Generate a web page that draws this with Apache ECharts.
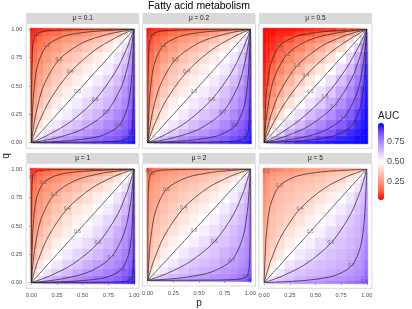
<!DOCTYPE html>
<html><head><meta charset="utf-8">
<script src="https://cdn.jsdelivr.net/npm/echarts@6/dist/echarts.min.js"></script>
<style>html,body{margin:0;padding:0;background:#fff}#c{width:412px;height:309px}</style>
</head><body><div id="c"></div>
<script>
// ---------- data ----------
const chartTitle = 'Fatty acid metabolism';
const panelTitles = ['μ = 0.1','μ = 0.2','μ = 0.5','μ = 1','μ = 2','μ = 5'];
const axisTicks = [0, 0.25, 0.5, 0.75, 1];
const axisTickLabels = ['0.00','0.25','0.50','0.75','1.00'];
const legendTicks = [0.25, 0.5, 0.75];
const legendTickLabels = ['0.25','0.50','0.75'];
// heatmap cell edges (p and q)
const pEdges = [-0.01,0.02,0.06,0.12,0.2,0.3,0.4,0.5,0.6,0.7,0.8,0.88,0.94,0.98,1.01];
const qEdges = [-0.01,0.02,0.06,0.12,0.2,0.3,0.4,0.5,0.6,0.7,0.8,0.88,0.94,0.98,1.01];
// AUC rows: row j = q cell j (bottom -> top), entries = p cells (left -> right)
const aucMu01 = [
[.50,.63,.70,.75,.79,.81,.83,.85,.87,.89,.91,.92,.93,.95],
[.37,.50,.58,.64,.69,.72,.75,.78,.80,.83,.85,.88,.91,.93],
[.30,.42,.50,.56,.61,.65,.69,.72,.75,.78,.81,.84,.88,.92],
[.25,.36,.44,.50,.55,.60,.63,.67,.70,.74,.77,.81,.85,.91],
[.21,.31,.39,.45,.50,.54,.58,.62,.65,.70,.74,.78,.83,.89],
[.19,.28,.35,.40,.46,.50,.54,.58,.61,.65,.70,.75,.80,.87],
[.17,.25,.31,.37,.42,.46,.50,.54,.58,.62,.67,.72,.78,.85],
[.15,.22,.28,.33,.38,.42,.46,.50,.54,.58,.63,.69,.75,.83],
[.13,.20,.25,.30,.35,.39,.42,.46,.50,.54,.60,.65,.72,.81],
[.11,.17,.22,.26,.30,.35,.38,.42,.46,.50,.55,.61,.69,.79],
[.09,.15,.19,.23,.26,.30,.33,.37,.40,.45,.50,.56,.64,.75],
[.08,.12,.16,.19,.22,.25,.28,.31,.35,.39,.44,.50,.58,.70],
[.07,.09,.12,.15,.17,.20,.22,.25,.28,.31,.36,.42,.50,.63],
[.05,.07,.08,.09,.11,.13,.15,.17,.19,.21,.25,.30,.37,.50]];
const aucMu02 = [
[.50,.63,.70,.76,.80,.82,.84,.85,.87,.89,.91,.92,.93,.95],
[.37,.50,.58,.64,.69,.73,.76,.79,.81,.83,.86,.88,.91,.93],
[.30,.42,.50,.56,.61,.65,.69,.72,.75,.79,.82,.85,.88,.92],
[.24,.36,.44,.50,.55,.59,.63,.67,.70,.74,.79,.82,.86,.91],
[.20,.31,.39,.45,.50,.54,.58,.62,.65,.70,.74,.79,.83,.89],
[.18,.27,.35,.41,.46,.50,.54,.57,.61,.65,.70,.75,.81,.87],
[.16,.24,.31,.37,.42,.46,.50,.54,.57,.62,.67,.72,.79,.85],
[.15,.21,.28,.33,.38,.43,.46,.50,.54,.58,.63,.69,.76,.84],
[.13,.19,.25,.30,.35,.39,.43,.46,.50,.54,.59,.65,.73,.82],
[.11,.17,.21,.26,.30,.35,.38,.42,.46,.50,.55,.61,.69,.80],
[.09,.14,.18,.21,.26,.30,.33,.37,.41,.45,.50,.56,.64,.76],
[.08,.12,.15,.18,.21,.25,.28,.31,.35,.39,.44,.50,.58,.70],
[.07,.09,.12,.14,.17,.19,.21,.24,.27,.31,.36,.42,.50,.63],
[.05,.07,.08,.09,.11,.13,.15,.16,.18,.20,.24,.30,.37,.50]];
const aucMu05 = [
[.50,.70,.79,.84,.88,.91,.92,.93,.94,.95,.95,.96,.96,.97],
[.30,.50,.62,.71,.77,.81,.84,.88,.90,.92,.93,.95,.95,.96],
[.21,.38,.50,.59,.67,.73,.77,.81,.84,.88,.91,.93,.95,.96],
[.16,.29,.41,.50,.58,.64,.70,.74,.79,.83,.87,.91,.93,.95],
[.12,.23,.33,.42,.50,.57,.63,.68,.73,.78,.83,.88,.92,.95],
[.09,.19,.27,.36,.43,.50,.56,.61,.67,.73,.79,.84,.90,.94],
[.08,.16,.23,.30,.37,.44,.50,.56,.61,.68,.74,.81,.88,.93],
[.07,.12,.19,.26,.32,.39,.44,.50,.56,.63,.70,.77,.84,.92],
[.06,.10,.16,.21,.27,.33,.39,.44,.50,.57,.64,.73,.81,.91],
[.05,.08,.12,.17,.22,.27,.32,.37,.43,.50,.58,.67,.77,.88],
[.05,.07,.09,.13,.17,.21,.26,.30,.36,.42,.50,.59,.71,.84],
[.04,.05,.07,.09,.12,.16,.19,.23,.27,.33,.41,.50,.62,.79],
[.04,.05,.05,.07,.08,.10,.12,.16,.19,.23,.29,.38,.50,.70],
[.03,.04,.04,.05,.05,.06,.07,.08,.09,.12,.16,.21,.30,.50]];
const aucMu1 = [
[.50,.62,.69,.73,.76,.79,.81,.82,.84,.85,.87,.90,.91,.93],
[.38,.50,.57,.63,.67,.71,.73,.75,.78,.80,.82,.85,.88,.91],
[.31,.43,.50,.56,.60,.64,.68,.71,.73,.76,.79,.82,.85,.90],
[.27,.37,.44,.50,.55,.59,.62,.66,.69,.72,.75,.79,.82,.87],
[.24,.33,.40,.45,.50,.54,.58,.61,.64,.68,.72,.76,.80,.85],
[.21,.29,.36,.41,.46,.50,.54,.57,.61,.64,.69,.73,.78,.84],
[.19,.27,.32,.38,.42,.46,.50,.53,.57,.61,.66,.71,.75,.82],
[.18,.25,.29,.34,.39,.43,.47,.50,.54,.58,.62,.68,.73,.81],
[.16,.22,.27,.31,.36,.39,.43,.46,.50,.54,.59,.64,.71,.79],
[.15,.20,.24,.28,.32,.36,.39,.42,.46,.50,.55,.60,.67,.76],
[.13,.18,.21,.25,.28,.31,.34,.38,.41,.45,.50,.56,.63,.73],
[.10,.15,.18,.21,.24,.27,.29,.32,.36,.40,.44,.50,.57,.69],
[.09,.12,.15,.18,.20,.22,.25,.27,.29,.33,.37,.43,.50,.62],
[.07,.09,.10,.13,.15,.16,.18,.19,.21,.24,.27,.31,.38,.50]];
const aucMu2 = [
[.50,.61,.65,.68,.71,.72,.74,.75,.76,.78,.80,.82,.85,.90],
[.39,.50,.57,.61,.64,.66,.69,.70,.72,.73,.75,.77,.80,.85],
[.35,.43,.50,.55,.59,.62,.64,.66,.68,.71,.72,.75,.77,.82],
[.32,.39,.45,.50,.54,.58,.61,.63,.65,.68,.70,.72,.75,.80],
[.29,.36,.41,.46,.50,.54,.57,.60,.62,.65,.68,.71,.73,.78],
[.28,.34,.38,.42,.46,.50,.53,.56,.60,.62,.65,.68,.72,.76],
[.26,.31,.36,.39,.43,.47,.50,.53,.56,.60,.63,.66,.70,.75],
[.25,.30,.34,.37,.40,.44,.47,.50,.53,.57,.61,.64,.69,.74],
[.24,.28,.32,.35,.38,.40,.44,.47,.50,.54,.58,.62,.66,.72],
[.22,.27,.29,.32,.35,.38,.40,.43,.46,.50,.54,.59,.64,.71],
[.20,.25,.28,.30,.32,.35,.37,.39,.42,.46,.50,.55,.61,.68],
[.18,.23,.25,.28,.29,.32,.34,.36,.38,.41,.45,.50,.57,.65],
[.15,.20,.23,.25,.27,.28,.30,.31,.34,.36,.39,.43,.50,.61],
[.10,.15,.18,.20,.22,.24,.25,.26,.28,.29,.32,.35,.39,.50]];
const aucMu5 = [
[.50,.61,.64,.67,.69,.71,.72,.73,.75,.76,.78,.80,.81,.83],
[.39,.50,.57,.61,.63,.65,.67,.69,.70,.72,.73,.75,.78,.81],
[.36,.43,.50,.55,.60,.62,.64,.65,.67,.69,.71,.73,.75,.80],
[.33,.39,.45,.50,.55,.58,.61,.63,.64,.66,.68,.71,.73,.78],
[.31,.37,.40,.45,.50,.54,.57,.60,.62,.64,.66,.69,.72,.76],
[.29,.35,.38,.42,.46,.50,.53,.57,.60,.62,.64,.67,.70,.75],
[.28,.33,.36,.39,.43,.47,.50,.53,.57,.60,.63,.65,.69,.73],
[.27,.31,.35,.37,.40,.43,.47,.50,.53,.57,.61,.64,.67,.72],
[.25,.30,.33,.36,.38,.40,.43,.47,.50,.54,.58,.62,.65,.71],
[.24,.28,.31,.34,.36,.38,.40,.43,.46,.50,.55,.60,.63,.69],
[.22,.27,.29,.32,.34,.36,.37,.39,.42,.45,.50,.55,.61,.67],
[.20,.25,.27,.29,.31,.33,.35,.36,.38,.40,.45,.50,.57,.64],
[.19,.22,.25,.27,.28,.30,.31,.33,.35,.37,.39,.43,.50,.61],
[.17,.19,.20,.22,.24,.25,.27,.28,.29,.31,.33,.36,.39,.50]];

// contour lines [p, q]
const cDiag = [[0,0],[.45,.45],[1,1]];
const cD075 = [[0,0],[.012,.026],[.033,.068],[.085,.165],[.202,.349],[.407,.593],[.651,.798],[.836,.915],[.932,.967],[.974,.988],[1,1]];
const cD075s = [[0,0],[.026,.012],[.068,.033],[.165,.085],[.349,.202],[.593,.407],[.798,.651],[.915,.836],[.967,.932],[.988,.974],[1,1]];
const cD1 = [[0,0],[.011,.029],[.029,.076],[.076,.182],[.182,.378],[.378,.622],[.622,.818],[.818,.924],[.924,.971],[.971,.989],[1,1]];
const cD1s = [[0,0],[.029,.011],[.076,.029],[.182,.076],[.378,.182],[.622,.378],[.818,.622],[.924,.818],[.971,.924],[.989,.971],[1,1]];
const cD125 = [[0,0],[.010,.033],[.026,.085],[.068,.202],[.165,.407],[.349,.651],[.593,.836],[.798,.933],[.915,.974],[.967,.990],[1,1]];
const cD125s = [[0,0],[.033,.010],[.085,.026],[.202,.068],[.407,.165],[.651,.349],[.836,.593],[.933,.798],[.974,.915],[.990,.967],[1,1]];
const cD15 = [[0,0],[.009,.037],[.023,.095],[.060,.223],[.148,.438],[.321,.679],[.562,.852],[.777,.940],[.905,.977],[.963,.991],[1,1]];
const cD15s = [[0,0],[.037,.009],[.095,.023],[.223,.060],[.438,.148],[.679,.321],[.852,.562],[.940,.777],[.977,.905],[.991,.963],[1,1]];
const cD2 = [[0,0],[.007,.047],[.018,.119],[.047,.269],[.119,.5],[.269,.731],[.5,.881],[.731,.953],[.881,.982],[.953,.993],[1,1]];
const cD2s = [[0,0],[.047,.007],[.119,.018],[.269,.047],[.5,.119],[.731,.269],[.881,.5],[.953,.731],[.982,.881],[.993,.953],[1,1]];
const cD25 = [[0,0],[.005,.060],[.014,.148],[.037,.321],[.095,.562],[.223,.777],[.438,.905],[.679,.963],[.852,.986],[.940,.995],[1,1]];
const cD25s = [[0,0],[.060,.005],[.148,.014],[.321,.037],[.562,.095],[.777,.223],[.905,.438],[.963,.679],[.986,.852],[.995,.940],[1,1]];
const cD3 = [[0,0],[.004,.076],[.011,.182],[.029,.378],[.076,.622],[.182,.818],[.378,.924],[.622,.971],[.818,.989],[.924,.996],[1,1]];
const cD3s = [[0,0],[.076,.004],[.182,.011],[.378,.029],[.622,.076],[.818,.182],[.924,.378],[.971,.622],[.989,.818],[.996,.924],[1,1]];
const cD35 = [[0,0],[0,.014],[.003,.095],[.009,.223],[.023,.438],[.060,.679],[.148,.852],[.321,.940],[.562,.977],[.777,.991],[.905,.997],[.986,1],[1,1]];
const cD35s = [[0,0],[.014,0],[.095,.003],[.223,.009],[.438,.023],[.679,.060],[.852,.148],[.940,.321],[.977,.562],[.991,.777],[.997,.905],[1,.986],[1,1]];
const cD4 = [[0,0],[0,.018],[.002,.119],[.007,.269],[.018,.5],[.047,.731],[.119,.881],[.269,.953],[.5,.982],[.731,.993],[.881,.998],[.982,1],[1,1]];
const cD4s = [[0,0],[.018,0],[.119,.002],[.269,.007],[.5,.018],[.731,.047],[.881,.119],[.953,.269],[.982,.5],[.993,.731],[.998,.881],[1,.982],[1,1]];
const cD6 = [[0,0],[0,.047],[.001,.269],[.002,.5],[.007,.731],[.018,.881],[.047,.953],[.119,.982],[.269,.993],[.5,.998],[.731,.999],[.953,1],[1,1]];
const cD6s = [[0,0],[.047,0],[.269,.001],[.5,.002],[.731,.007],[.881,.018],[.953,.047],[.982,.119],[.993,.269],[.998,.5],[.999,.731],[1,.953],[1,1]];
const cD65 = [[0,0],[0,.060],[.001,.321],[.002,.562],[.005,.777],[.014,.905],[.037,.963],[.095,.986],[.223,.995],[.438,.998],[.679,.999],[.940,1],[1,1]];
const cD65s = [[0,0],[.060,0],[.321,.001],[.562,.002],[.777,.005],[.905,.014],[.963,.037],[.986,.095],[.995,.223],[.998,.438],[.999,.679],[1,.940],[1,1]];
const cD7 = [[0,0],[0,.076],[.001,.378],[.002,.622],[.004,.818],[.011,.924],[.029,.971],[.076,.989],[.182,.996],[.378,.998],[.622,.999],[.924,1],[1,1]];
const cD7s = [[0,0],[.076,0],[.378,.001],[.622,.002],[.818,.004],[.924,.011],[.971,.029],[.989,.076],[.996,.182],[.998,.378],[.999,.622],[1,.924],[1,1]];

// [level label, contour line, index of the point carrying the label]
const contoursMu01 = [['0.1',cD6,6],['0.2',cD35,6],['0.3',cD2,5],['0.4',cD1,5],['0.5',cDiag,1],['0.6',cD1s,5],['0.7',cD2s,5],['0.8',cD35s,6],['0.9',cD6s,6]];
const contoursMu02 = [['0.1',cD6,6],['0.2',cD35,6],['0.3',cD2,5],['0.4',cD1,5],['0.5',cDiag,1],['0.6',cD1s,5],['0.7',cD2s,5],['0.8',cD35s,6],['0.9',cD6s,6]];
const contoursMu05 = [['0.1',cD35,6],['0.2',cD25,5],['0.3',cD15,5],['0.4',cD075,5],['0.5',cDiag,1],['0.6',cD075s,5],['0.7',cD15s,5],['0.8',cD25s,5],['0.9',cD35s,6]];
const contoursMu1 = [['0.1',cD7,5],['0.2',cD4,6],['0.3',cD25,5],['0.4',cD125,5],['0.5',cDiag,1],['0.6',cD125s,5],['0.7',cD25s,5],['0.8',cD4s,6],['0.9',cD7s,6]];
const contoursMu2 = [['0.2',cD65,6],['0.3',cD3,5],['0.4',cD125,5],['0.5',cDiag,1],['0.6',cD125s,5],['0.7',cD3s,5],['0.8',cD65s,6]];
const contoursMu5 = [['0.3',cD35,6],['0.4',cD125,5],['0.5',cDiag,1],['0.6',cD125s,5],['0.7',cD35s,6]];
// corner labels of tiny contours: [panel, p, q, text]
const extraLabels = [[4,0.012,0.975,'0.1'],[5,0.02,0.975,'0.2'],[5,0.975,0.012,'0.8']];

// ---------- build ----------
const FONT = 'Liberation Sans, Arial, sans-serif';
const aucByPanel = [aucMu01, aucMu02, aucMu05, aucMu1, aucMu2, aucMu5];
const contoursByPanel = [contoursMu01, contoursMu02, contoursMu05, contoursMu1, contoursMu2, contoursMu5];
const colLeft = [26.2, 142.6, 259.0], rowTop = [23.6, 163.6];
const panelW = 112.9, panelH = 124.7, stripH = 10.6;

const grids = [], xAxes = [], yAxes = [], series = [], graphics = [], heatIdx = [];
for (let k = 0; k < 6; k++) {
  const col = k % 3, row = Math.floor(k / 3);
  grids.push({left: colLeft[col], top: rowTop[row], width: panelW, height: panelH,
    show: true, backgroundColor: '#fff', borderColor: '#bdbdbd', borderWidth: 0.6});
  xAxes.push({gridIndex: k, type: 'value', min: -0.05, max: 1.05,
    name: k === 4 ? 'p' : '', nameLocation: 'middle', nameGap: 12,
    nameTextStyle: {fontSize: 10, color: '#1a1a1a', fontFamily: FONT},
    axisLine: {show: false},
    axisTick: {show: row === 1, customValues: axisTicks, length: 2.5, lineStyle: {color: '#333', width: 0.5}},
    axisLabel: {show: row === 1, customValues: axisTicks, margin: 4, fontSize: 5.7, color: '#4d4d4d', fontFamily: FONT,
      formatter: v => axisTickLabels[axisTicks.indexOf(v)]},
    splitLine: {show: false}});
  yAxes.push({gridIndex: k, type: 'value', min: -0.05, max: 1.05,
    axisLine: {show: false},
    axisTick: {show: col === 0, customValues: axisTicks, length: 2.5, lineStyle: {color: '#333', width: 0.5}},
    axisLabel: {show: col === 0, customValues: axisTicks, margin: 4, fontSize: 5.7, color: '#4d4d4d', fontFamily: FONT,
      formatter: v => axisTickLabels[axisTicks.indexOf(v)]},
    splitLine: {show: false}});
  const cells = [];
  aucByPanel[k].forEach((rowVals, j) => rowVals.forEach((v, i) =>
    cells.push([(pEdges[i] + pEdges[i + 1]) / 2, (qEdges[j] + qEdges[j + 1]) / 2, v, i, j])));
  heatIdx.push(series.length);
  series.push({type: 'custom', xAxisIndex: k, yAxisIndex: k, data: cells, silent: true, z: 1,
    encode: {x: 0, y: 1},
    renderItem: (params, api) => {
      const i = api.value(3), j = api.value(4);
      const a = api.coord([pEdges[i], qEdges[j + 1]]);
      const b = api.coord([pEdges[i + 1], qEdges[j]]);
      const c = api.visual('color');
      return {type: 'rect', shape: {x: a[0], y: a[1], width: b[0] - a[0], height: b[1] - a[1]},
        style: {fill: c, stroke: c, lineWidth: 0.5}};
    }});
  const labs = [];
  contoursByPanel[k].forEach(([lv, curve, li]) => {
    series.push({type: 'line', xAxisIndex: k, yAxisIndex: k, data: curve, showSymbol: false,
      smooth: 0.3, silent: true, z: 3, lineStyle: {color: '#222', width: 0.7}});
    labs.push({name: lv, value: curve[li]});
  });
  extraLabels.filter(e => e[0] === k).forEach(e => labs.push({name: e[3], value: [e[1], e[2]]}));
  series.push({type: 'scatter', xAxisIndex: k, yAxisIndex: k, data: labs, symbolSize: 1, silent: true, z: 4,
    itemStyle: {color: 'rgba(0,0,0,0)'},
    label: {show: true, position: 'inside', formatter: p => p.name, fontSize: 5, color: '#555', fontFamily: FONT}});
  // strip
  graphics.push({type: 'rect', shape: {x: colLeft[col], y: rowTop[row] - stripH, width: panelW, height: stripH},
    style: {fill: '#d9d9d9'}, z: 5});
  graphics.push({type: 'text', x: colLeft[col] + panelW / 2, y: rowTop[row] - stripH / 2 + 0.3, z: 6,
    style: {text: panelTitles[k], align: 'center', verticalAlign: 'middle', fontSize: 6.5, fill: '#1a1a1a', fontFamily: FONT}});
}
// legend axis
grids.push({left: 378, top: 123, width: 6, height: 77, show: false});
xAxes.push({gridIndex: 6, type: 'value', show: false, min: 0, max: 1});
yAxes.push({gridIndex: 6, type: 'value', min: 0.03, max: 0.97, position: 'right', z: 10,
  axisLine: {show: false},
  axisTick: {show: true, inside: true, customValues: legendTicks, length: 1.5, lineStyle: {color: '#fff', width: 0.8}},
  axisLabel: {customValues: legendTicks, margin: 3, fontSize: 9, color: '#4d4d4d', fontFamily: FONT,
    formatter: v => legendTickLabels[legendTicks.indexOf(v)]},
  splitLine: {show: false}});

graphics.push({type: 'text', x: 199, y: 6.5, style: {text: chartTitle, align: 'center', verticalAlign: 'middle', fontSize: 10.5, fill: '#000', fontFamily: FONT}});
graphics.push({type: 'text', x: 6, y: 156, rotation: Math.PI / 2, style: {text: 'q', align: 'center', verticalAlign: 'middle', fontSize: 10, fill: '#1a1a1a', fontFamily: FONT}});
graphics.push({type: 'text', x: 378, y: 116.5, style: {text: 'AUC', align: 'left', verticalAlign: 'middle', fontSize: 10, fill: '#1a1a1a', fontFamily: FONT}});

const chart = echarts.init(document.getElementById('c'), null, {renderer: 'canvas'});
chart.setOption({
  animation: false,
  backgroundColor: '#fff',
  textStyle: {fontFamily: FONT},
  grid: grids, xAxis: xAxes, yAxis: yAxes, series: series, graphic: graphics,
  visualMap: [{type: 'continuous', min: 0.03, max: 0.97, dimension: 2, seriesIndex: heatIdx,
    left: 378, top: 123, itemWidth: 6, itemHeight: 77, padding: 0, calculable: false, hoverLink: false,
    text: null, showLabel: false,
    inRange: {color: ['#FF0000','#FF6846','#FF9E81','#FFCEBE','#FFFFFF','#DCC4FF','#B38BFF','#7E51FF','#0000FF']}}]
});
</script></body></html>
